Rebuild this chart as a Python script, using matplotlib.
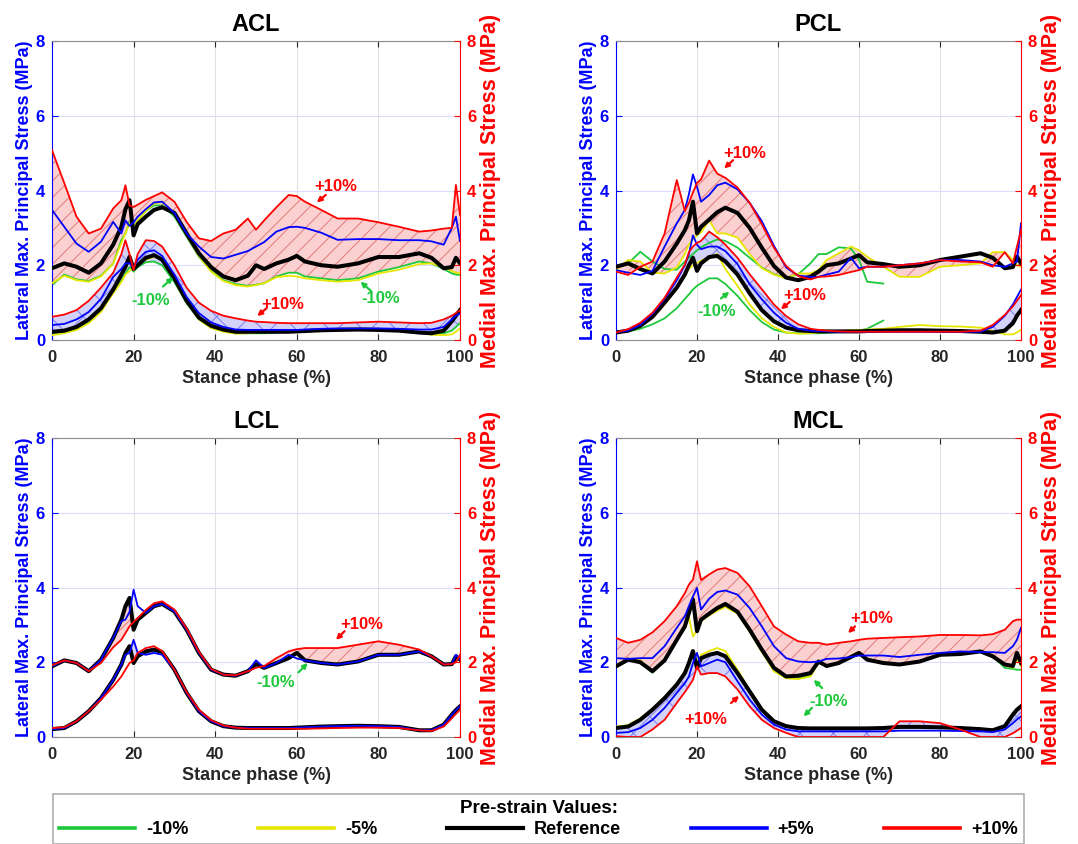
import matplotlib
matplotlib.use("Agg")
import matplotlib.pyplot as plt
import numpy as np
from matplotlib.lines import Line2D

plt.rcParams["font.family"] = ["Liberation Sans", "DejaVu Sans"]
plt.rcParams["font.weight"] = "bold"
plt.rcParams["hatch.linewidth"] = 0.7

nan = float("nan")

# stance phase sample points (%)
stance = [0, 3, 6, 9, 12, 15, 17, 18, 19, 20, 21, 23, 25, 27, 30, 33, 36, 39, 42, 45,
          48, 50, 52, 55, 58, 60, 62, 66, 70, 75, 80, 85, 90, 93, 96, 98, 99, 100]

labels = ["-10%", "-5%", "Reference", "+5%", "+10%"]

# ---- ACL ----
acl_med_m10 = [1.47, 1.75, 1.62, 1.58, 1.72, 2.05, 2.67, 2.85, 3.16, 3.03, 3.2, 3.45, 3.6, 3.6, 3.3, 2.76, 2.23, 1.85, 1.6, 1.5,
               1.45, 1.48, 1.52, 1.7, 1.8, 1.8, 1.7, 1.65, 1.6, 1.65, 1.83, 1.95, 2.1, 2.05, 1.9, 1.78, 1.75, 1.74]
acl_med_m5 = [1.52, 1.72, 1.6, 1.56, 1.7, 2.05, 2.6, 2.85, 3.12, 3.0, 3.2, 3.45, 3.65, 3.7, 3.35, 2.8, 2.25, 1.83, 1.58, 1.47,
              1.43, 1.47, 1.52, 1.68, 1.72, 1.7, 1.65, 1.6, 1.56, 1.6, 1.78, 1.88, 2.03, 2.05, 1.95, 1.85, 1.8, 1.78]
acl_med_ref = [1.92, 2.05, 1.96, 1.8, 2.05, 2.55, 3.03, 3.5, 3.74, 2.8, 3.1, 3.3, 3.48, 3.55, 3.4, 2.85, 2.32, 1.95, 1.7, 1.6,
               1.72, 2.0, 1.9, 2.05, 2.15, 2.25, 2.1, 2.0, 1.96, 2.05, 2.22, 2.22, 2.32, 2.2, 1.92, 1.95, 2.2, 2.05]
acl_med_p5 = [3.48, 3.03, 2.58, 2.36, 2.63, 3.16, 2.85, 3.2, 3.05, 3.15, 3.3, 3.5, 3.68, 3.7, 3.4, 2.85, 2.5, 2.22, 2.18, 2.28,
              2.38, 2.5, 2.62, 2.9, 3.02, 3.03, 3.0, 2.87, 2.68, 2.7, 2.7, 2.67, 2.67, 2.64, 2.55, 3.0, 3.3, 2.65]
acl_med_p10 = [5.08, 4.2, 3.3, 2.85, 2.98, 3.52, 3.74, 4.14, 3.6, 3.56, 3.62, 3.75, 3.85, 3.95, 3.7, 3.16, 2.72, 2.65, 2.85, 2.95,
               3.25, 2.95, 3.2, 3.55, 3.88, 3.85, 3.7, 3.48, 3.25, 3.25, 3.15, 3.03, 2.9, 2.93, 2.98, 3.0, 4.15, 3.35]

acl_lat_m10 = [0.18, 0.22, 0.3, 0.5, 0.8, 1.3, 1.6, 1.78, 1.95, 1.83, 1.95, 2.08, 2.1, 2.0, 1.55, 0.98, 0.55, 0.33, 0.24, 0.18,
               0.18, 0.18, 0.18, 0.2, 0.21, 0.22, 0.23, 0.25, 0.26, 0.27, 0.26, 0.24, 0.18, 0.17, 0.18, 0.25, 0.35, 0.45]
acl_lat_m5 = [0.13, 0.18, 0.27, 0.45, 0.75, 1.25, 1.55, 1.75, 1.85, 1.95, 2.0, 2.15, 2.23, 2.15, 1.65, 1.02, 0.55, 0.32, 0.22, 0.17,
              0.18, 0.2, 0.22, 0.24, 0.25, 0.26, 0.27, 0.29, 0.3, 0.31, 0.3, 0.28, 0.2, 0.14, 0.13, 0.15, 0.22, 0.31]
acl_lat_ref = [0.22, 0.25, 0.35, 0.55, 0.85, 1.35, 1.75, 1.96, 2.23, 1.9, 2.0, 2.2, 2.27, 2.15, 1.65, 1.05, 0.6, 0.38, 0.28, 0.22,
               0.22, 0.22, 0.22, 0.22, 0.22, 0.23, 0.24, 0.26, 0.27, 0.28, 0.27, 0.25, 0.2, 0.18, 0.25, 0.5, 0.65, 0.8]
acl_lat_p5 = [0.4, 0.43, 0.55, 0.75, 1.1, 1.69, 1.9, 2.05, 2.05, 1.96, 2.15, 2.36, 2.4, 2.25, 1.75, 1.15, 0.72, 0.47, 0.35, 0.28,
              0.27, 0.27, 0.27, 0.27, 0.27, 0.27, 0.28, 0.3, 0.31, 0.31, 0.31, 0.3, 0.28, 0.28, 0.35, 0.55, 0.65, 0.71]
acl_lat_p10 = [0.62, 0.68, 0.8, 1.05, 1.4, 1.8, 2.3, 2.67, 2.3, 1.87, 2.3, 2.67, 2.65, 2.5, 2.0, 1.4, 1.0, 0.78, 0.65, 0.58,
               0.52, 0.49, 0.48, 0.46, 0.45, 0.45, 0.45, 0.45, 0.45, 0.47, 0.49, 0.47, 0.45, 0.46, 0.55, 0.65, 0.72, 0.8]

# ---- PCL ----
pcl_med_m10 = [1.92, 2.05, 2.36, 2.1, 1.9, 1.88, 2.1, 2.2, 2.3, 2.4, 2.48, 2.6, 2.69, 2.65, 2.47, 2.2, 1.94, 1.76, 1.67, 1.76,
               2.05, 2.3, 2.3, 2.48, 2.45, 2.15, 1.56, 1.51, nan, nan, nan, nan, nan, nan, nan, nan, nan, nan]
pcl_med_m5 = [1.87, 2.14, 2.1, 1.8, 1.78, 1.94, 2.3, 2.56, 2.7, 2.8, 2.88, 3.2, 2.85, 2.85, 2.74, 2.3, 1.92, 1.75, 1.65, 1.78,
              1.78, 1.87, 2.14, 2.32, 2.5, 2.4, 2.23, 1.96, 1.69, 1.69, 1.96, 2.0, 2.05, 2.35, 2.35, 2.14, 2.0, 1.96]
pcl_med_ref = [1.96, 2.05, 1.9, 1.78, 2.1, 2.58, 2.94, 3.2, 3.7, 2.85, 3.03, 3.22, 3.42, 3.54, 3.4, 3.0, 2.47, 1.98, 1.67, 1.6,
               1.69, 1.83, 2.0, 2.05, 2.18, 2.27, 2.08, 2.03, 1.96, 2.0, 2.14, 2.23, 2.32, 2.2, 1.92, 1.95, 2.23, 2.05]
pcl_med_p5 = [1.87, 1.8, 1.74, 1.85, 2.5, 3.12, 3.48, 3.9, 4.43, 4.1, 3.7, 3.88, 4.14, 4.21, 4.03, 3.67, 3.18, 2.52, 1.94, 1.72,
              1.69, 1.69, 1.75, 1.83, 2.2, 1.92, 1.96, 1.96, 2.0, 2.05, 2.14, 2.14, 2.1, 2.0, 1.96, 2.05, 2.1, 3.12]
pcl_med_p10 = [1.83, 1.74, 1.96, 2.1, 2.85, 4.28, 3.45, 3.67, 3.95, 4.2, 4.3, 4.8, 4.45, 4.34, 4.08, 3.67, 3.1, 2.47, 1.98, 1.71,
               1.62, 1.69, 1.7, 1.74, 1.82, 1.87, 1.96, 1.96, 2.0, 2.05, 2.14, 2.1, 2.08, 1.96, 2.35, 2.05, 2.5, 2.94]

pcl_lat_m10 = [0.2, 0.23, 0.3, 0.42, 0.58, 0.85, 1.1, 1.22, 1.35, 1.45, 1.52, 1.65, 1.65, 1.5, 1.18, 0.8, 0.48, 0.28, 0.2, 0.18,
               0.18, 0.18, 0.19, 0.22, 0.23, 0.25, 0.3, 0.52, nan, nan, nan, nan, nan, nan, nan, nan, nan, nan]
pcl_lat_m5 = [0.2, 0.27, 0.4, 0.6, 0.95, 1.4, 1.75, 1.9, 2.0, 2.06, 2.12, 2.22, 2.3, 1.9, 1.45, 0.95, 0.58, 0.35, 0.2, 0.17,
              0.18, 0.2, 0.22, 0.24, 0.26, 0.27, 0.28, 0.3, 0.35, 0.4, 0.37, 0.36, 0.33, 0.25, 0.15, 0.15, 0.2, 0.27]
pcl_lat_ref = [0.2, 0.25, 0.38, 0.62, 1.0, 1.4, 1.75, 2.0, 2.2, 1.85, 2.05, 2.22, 2.25, 2.1, 1.75, 1.25, 0.8, 0.5, 0.33, 0.26,
               0.24, 0.23, 0.23, 0.23, 0.23, 0.23, 0.24, 0.25, 0.26, 0.26, 0.25, 0.24, 0.22, 0.2, 0.25, 0.45, 0.65, 0.8]
pcl_lat_p5 = [0.2, 0.25, 0.4, 0.7, 1.1, 1.6, 2.0, 2.3, 2.8, 2.55, 2.43, 2.5, 2.5, 2.38, 2.03, 1.49, 1.09, 0.73, 0.46, 0.3,
              0.25, 0.24, 0.23, 0.22, 0.22, 0.22, 0.22, 0.22, 0.22, 0.22, 0.22, 0.22, 0.22, 0.35, 0.65, 0.95, 1.15, 1.35]
pcl_lat_p10 = [0.2, 0.29, 0.46, 0.73, 1.13, 1.67, 2.02, 2.35, 2.5, 2.6, 2.65, 2.9, 2.75, 2.55, 2.2, 1.76, 1.36, 0.95, 0.64, 0.42,
               0.3, 0.27, 0.25, 0.23, 0.22, 0.22, 0.22, 0.22, 0.22, 0.22, 0.22, 0.22, 0.25, 0.4, 0.67, 0.9, 1.05, 1.2]

# ---- LCL ----  (-10% and -5% lie on the reference curve)
lcl_med_ref = [1.89, 2.05, 1.98, 1.76, 2.07, 2.65, 3.14, 3.5, 3.72, 2.87, 3.14, 3.32, 3.5, 3.56, 3.36, 2.87, 2.25, 1.8, 1.67, 1.64,
               1.76, 1.95, 1.85, 1.98, 2.11, 2.25, 2.05, 1.98, 1.94, 2.02, 2.2, 2.2, 2.29, 2.16, 1.94, 1.95, 2.16, 2.07]
lcl_med_m10 = list(lcl_med_ref)
lcl_med_m5 = list(lcl_med_ref)
lcl_med_p5 = [1.89, 2.05, 1.98, 1.76, 2.07, 2.65, 3.1, 3.14, 3.35, 3.94, 3.5, 3.32, 3.5, 3.56, 3.36, 2.87, 2.25, 1.8, 1.67, 1.64,
              1.76, 2.05, 1.85, 1.98, 2.2, 2.1, 2.05, 1.98, 1.94, 2.02, 2.2, 2.2, 2.29, 2.16, 1.94, 1.95, 2.2, 2.07]
lcl_med_p10 = [1.92, 2.05, 1.98, 1.76, 1.98, 2.4, 2.6, 2.78, 2.96, 3.08, 3.18, 3.4, 3.58, 3.63, 3.41, 2.9, 2.28, 1.82, 1.67, 1.65,
               1.76, 1.85, 1.9, 2.11, 2.29, 2.35, 2.38, 2.38, 2.38, 2.47, 2.56, 2.47, 2.34, 2.16, 1.94, 1.95, 2.0, 2.2]

lcl_lat_ref = [0.21, 0.24, 0.42, 0.69, 1.04, 1.53, 1.94, 2.25, 2.43, 1.98, 2.16, 2.29, 2.34, 2.27, 1.8, 1.18, 0.69, 0.42, 0.29, 0.25,
               0.24, 0.24, 0.24, 0.24, 0.24, 0.25, 0.26, 0.28, 0.29, 0.3, 0.29, 0.27, 0.18, 0.18, 0.33, 0.6, 0.72, 0.82]
lcl_lat_m10 = list(lcl_lat_ref)
lcl_lat_m5 = list(lcl_lat_ref)
lcl_lat_p5 = [0.21, 0.24, 0.42, 0.69, 1.04, 1.53, 1.94, 2.2, 2.25, 2.6, 2.25, 2.2, 2.25, 2.2, 1.8, 1.18, 0.69, 0.42, 0.29, 0.25,
              0.24, 0.24, 0.24, 0.24, 0.24, 0.25, 0.26, 0.28, 0.29, 0.3, 0.29, 0.27, 0.18, 0.18, 0.33, 0.6, 0.72, 0.82]
lcl_lat_p10 = [0.24, 0.26, 0.42, 0.69, 1.0, 1.35, 1.62, 1.8, 1.98, 2.05, 2.25, 2.38, 2.43, 2.3, 1.8, 1.2, 0.73, 0.45, 0.31, 0.25,
               0.22, 0.22, 0.22, 0.22, 0.22, 0.22, 0.22, 0.23, 0.24, 0.25, 0.25, 0.24, 0.18, 0.16, 0.28, 0.5, 0.62, 0.73]

# ---- MCL ----
mcl_med_m10 = [1.89, 2.07, 2.0, 1.72, 2.05, 2.6, 2.96, 3.32, 3.68, 2.83, 3.14, 3.3, 3.42, 3.52, 3.32, 2.85, 2.3, 1.78, 1.58, 1.57,
               1.65, 1.98, 1.9, 1.98, 2.14, 2.25, 2.07, 1.98, 1.94, 2.02, 2.2, 2.22, 2.29, 2.16, 1.85, 1.82, 1.8, 1.8]
mcl_med_m5 = [1.92, 2.1, 2.05, 1.74, 2.05, 2.6, 2.9, 3.2, 2.69, 2.85, 3.1, 3.25, 3.38, 3.48, 3.3, 2.82, 2.28, 1.76, 1.57, 1.55,
              1.62, 1.98, 1.9, 1.98, 2.14, 2.25, 2.07, 1.98, 1.94, 2.02, 2.2, 2.22, 2.3, 2.2, 1.92, 1.85, 2.1, 1.9]
mcl_med_ref = [1.89, 2.07, 2.0, 1.76, 2.05, 2.6, 2.96, 3.32, 3.68, 2.83, 3.14, 3.3, 3.45, 3.56, 3.35, 2.87, 2.34, 1.85, 1.62, 1.64,
               1.71, 2.02, 1.9, 1.98, 2.14, 2.25, 2.07, 1.98, 1.94, 2.02, 2.2, 2.22, 2.29, 2.16, 1.94, 1.9, 2.25, 1.98]
mcl_med_p5 = [2.11, 2.09, 2.11, 2.11, 2.43, 2.92, 3.23, 3.5, 3.76, 3.99, 3.41, 3.7, 3.88, 3.92, 3.81, 3.45, 2.96, 2.43, 2.11, 2.02,
              2.0, 2.02, 2.09, 2.1, 2.14, 2.18, 2.18, 2.18, 2.14, 2.2, 2.25, 2.29, 2.27, 2.27, 2.25, 2.43, 2.6, 2.92]
mcl_med_p10 = [2.65, 2.52, 2.6, 2.8, 3.1, 3.5, 3.85, 4.08, 4.21, 4.7, 4.2, 4.35, 4.48, 4.52, 4.39, 4.03, 3.5, 2.96, 2.74, 2.56,
               2.52, 2.52, 2.47, 2.52, 2.56, 2.6, 2.63, 2.65, 2.67, 2.69, 2.73, 2.73, 2.72, 2.75, 2.87, 3.1, 3.14, 3.14]

mcl_lat_ref = [0.24, 0.28, 0.46, 0.73, 1.04, 1.4, 1.71, 1.98, 2.3, 1.85, 2.11, 2.2, 2.25, 2.16, 1.71, 1.22, 0.73, 0.42, 0.29, 0.24,
               0.23, 0.23, 0.23, 0.23, 0.23, 0.23, 0.23, 0.24, 0.27, 0.27, 0.26, 0.24, 0.21, 0.18, 0.29, 0.6, 0.73, 0.82]
mcl_lat_m10 = list(mcl_lat_ref)
mcl_lat_m5 = [0.28, 0.32, 0.5, 0.76, 1.07, 1.43, 1.74, 2.0, 2.25, 2.0, 2.2, 2.3, 2.38, 2.3, 1.8, 1.25, 0.75, 0.43, 0.3, 0.25,
              0.24, 0.24, 0.24, 0.24, 0.24, 0.24, 0.24, 0.25, 0.28, 0.28, 0.27, 0.25, 0.22, 0.2, 0.3, 0.62, 0.74, 0.84]
mcl_lat_p5 = [0.11, 0.13, 0.24, 0.46, 0.78, 1.18, 1.44, 1.62, 1.98, 2.25, 1.89, 1.98, 2.07, 2.0, 1.49, 1.0, 0.6, 0.33, 0.2, 0.15,
              0.15, 0.15, 0.15, 0.15, 0.15, 0.15, 0.15, 0.15, 0.17, 0.17, 0.17, 0.16, 0.15, 0.13, 0.2, 0.37, 0.47, 0.55]
mcl_lat_p10 = [0.02, 0.0, 0.0, 0.2, 0.46, 0.91, 1.2, 1.36, 1.53, 1.89, 1.67, 1.71, 1.71, 1.62, 1.27, 0.82, 0.46, 0.24, 0.11, 0.0,
               0.0, 0.0, 0.0, 0.0, 0.0, 0.0, 0.0, 0.0, 0.42, 0.42, 0.37, 0.2, 0.0, 0.0, 0.0, 0.1, 0.17, 0.24]

COLORS = ["#1ec83c", "#e6e600", "black", "#0000ff", "#ff0000"]
WIDTHS = [1.3, 1.3, 2.9, 1.3, 1.3]
GRAY = "#262626"
W, H = 1078, 844


def draw_panel(rect, title, med, lat, med_low, lat_pair, notes):
    ax = fig.add_axes(rect)
    ax.set_xlim(0, 100)
    ax.set_ylim(0, 8)
    ax.set_axisbelow(True)
    ax.grid(axis="x", color="#e2e2e2", lw=0.8)
    ax.grid(axis="y", color="#dcdcff", lw=0.8)

    # hatched bands
    ax.fill_between(stance, med[4], med[med_low], facecolor="#fbd0d0",
                    edgecolor="#e47a7a", hatch="//", lw=0, zorder=1)
    ax.fill_between(stance, lat[lat_pair[0]], lat[lat_pair[1]], facecolor="#d2d2fa",
                    edgecolor="#7c7cf0", hatch="x", lw=0, zorder=1)

    for group in (med, lat):
        for k in [0, 1, 2, 3, 4]:
            ax.plot(stance, group[k], color=COLORS[k], lw=WIDTHS[k], zorder=2 + k)

    for txt, col, tx, ty, arrows in notes:
        ax.text(tx, ty, txt, color=col, fontsize=12, fontweight="bold",
                ha="center", va="center", zorder=10)
        for (x0, y0, x1, y1) in arrows:
            ax.annotate("", xy=(x1, y1), xytext=(x0, y0), zorder=10,
                        arrowprops=dict(arrowstyle="-|>", color=col, lw=1.6,
                                        mutation_scale=7, shrinkA=0, shrinkB=0))

    ax.set_xticks([0, 20, 40, 60, 80, 100])
    ax.set_yticks([0, 2, 4, 6, 8])
    ax.tick_params(axis="x", direction="in", top=True, length=4, color=GRAY,
                   labelcolor=GRAY, labelsize=12, pad=7)
    ax.tick_params(axis="y", direction="in", length=4, colors="#0000ff", labelsize=12, pad=5)
    for s in ("top", "bottom"):
        ax.spines[s].set_color("#8c8c8c")
    ax.spines["left"].set_color("#0000ff")
    ax.spines["right"].set_visible(False)
    ax.set_xlabel("Stance phase (%)", fontsize=13, fontweight="bold", color=GRAY, labelpad=4)
    ax.set_ylabel("Lateral Max. Principal Stress (MPa)", fontsize=13, fontweight="bold",
                  color="#0000ff", labelpad=2)
    ax.set_title(title, fontsize=17, fontweight="bold", pad=7)

    ax2 = ax.twinx()
    ax2.set_ylim(0, 8)
    ax2.set_yticks([0, 2, 4, 6, 8])
    ax2.tick_params(axis="y", direction="in", length=4, colors="#ff0000", labelsize=12, pad=5)
    for s in ("top", "bottom", "left"):
        ax2.spines[s].set_visible(False)
    ax2.spines["right"].set_color("#ff0000")
    ax2.set_ylabel("Medial Max. Principal Stress (MPa)", fontsize=15.5, fontweight="bold",
                   color="#ff0000", labelpad=3)
    return ax


fig = plt.figure(figsize=(W / 100, H / 100), dpi=100)


def rect(x0, x1, y0, y1):
    return [x0 / W, 1 - y1 / H, (x1 - x0) / W, (y1 - y0) / H]


draw_panel(rect(52, 460, 41, 340), "ACL",
           [acl_med_m10, acl_med_m5, acl_med_ref, acl_med_p5, acl_med_p10],
           [acl_lat_m10, acl_lat_m5, acl_lat_ref, acl_lat_p5, acl_lat_p10],
           0, (4, 0),
           [("+10%", "#ff0000", 69.6, 4.1, [(67.1, 3.88, 64.9, 3.68)]),
            ("-10%", "#1ec83c", 24.2, 1.07, [(27.2, 1.43, 29.7, 1.68)]),
            ("+10%", "#ff0000", 56.5, 0.96, [(52.6, 0.85, 50.3, 0.64)]),
            ("-10%", "#1ec83c", 80.6, 1.11, [(78.1, 1.32, 75.6, 1.56)])])

draw_panel(rect(616, 1021, 41, 340), "PCL",
           [pcl_med_m10, pcl_med_m5, pcl_med_ref, pcl_med_p5, pcl_med_p10],
           [pcl_lat_m10, pcl_lat_m5, pcl_lat_ref, pcl_lat_p5, pcl_lat_p10],
           1, (4, 2),
           [("+10%", "#ff0000", 31.8, 5.0, [(28.9, 4.81, 26.7, 4.59)]),
            ("+10%", "#ff0000", 46.7, 1.18, [(42.9, 1.02, 40.7, 0.82)]),
            ("-10%", "#1ec83c", 24.8, 0.76, [(25.9, 1.11, 28.0, 1.29)])])

draw_panel(rect(52, 460, 438, 737), "LCL",
           [lcl_med_m10, lcl_med_m5, lcl_med_ref, lcl_med_p5, lcl_med_p10],
           [lcl_lat_m10, lcl_lat_m5, lcl_lat_ref, lcl_lat_p5, lcl_lat_p10],
           2, (3, 2),
           [("+10%", "#ff0000", 76.0, 3.0, [(71.7, 2.83, 69.6, 2.6)]),
            ("-10%", "#1ec83c", 54.8, 1.45, [(60.4, 1.73, 62.7, 1.98)])])

draw_panel(rect(616, 1021, 438, 737), "MCL",
           [mcl_med_m10, mcl_med_m5, mcl_med_ref, mcl_med_p5, mcl_med_p10],
           [mcl_lat_m10, mcl_lat_m5, mcl_lat_ref, mcl_lat_p5, mcl_lat_p10],
           2, (2, 4),
           [("+10%", "#ff0000", 63.2, 3.18, [(59.0, 2.96, 57.3, 2.78)]),
            ("-10%", "#1ec83c", 52.6, 0.95, [(50.9, 1.31, 48.8, 1.53), (48.4, 0.78, 46.3, 0.55)]),
            ("+10%", "#ff0000", 22.1, 0.46, [(28.4, 0.91, 30.4, 1.1)])])

handles = [Line2D([], [], color=c, lw=3 if c == "black" else 2.6) for c in COLORS]
leg = fig.legend(handles, labels, loc="upper left",
                 bbox_to_anchor=(53 / W, 0, (1024 - 53) / W, 1 - 794 / H),
                 mode="expand", ncol=5, title="Pre-strain Values:",
                 prop={"size": 13, "weight": "bold"},
                 title_fontproperties={"size": 13.5, "weight": "bold"},
                 fancybox=False, edgecolor="#999999", handlelength=4.2,
                 borderpad=0.35, borderaxespad=0, labelspacing=0.2, handletextpad=0.6)
leg.get_frame().set_linewidth(1.2)

fig.savefig("out.png", dpi=100)
